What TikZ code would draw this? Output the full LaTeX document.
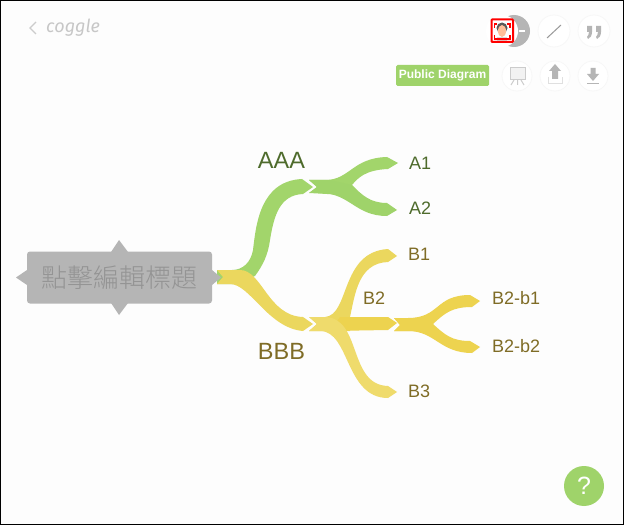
\documentclass[tikz,border=0pt]{standalone}
\usepackage{fontspec}
\setmainfont{Liberation Sans}
\newfontfamily\cjk{Noto Sans CJK TC Light}
\newfontfamily\logofont{Fira Sans}
\definecolor{gA}{HTML}{A2D56B}
\definecolor{gB}{HTML}{9FD36A}
\definecolor{yA}{HTML}{EBD75E}
\definecolor{yB}{HTML}{EDD665}
\definecolor{yC}{HTML}{EDD34F}
\definecolor{yD}{HTML}{EFDB6C}
\definecolor{tG}{HTML}{4E6B2C}
\definecolor{tY}{HTML}{7F6C26}
\definecolor{bgc}{HTML}{FDFDFD}
\definecolor{iconc}{HTML}{B5B5B5}
\tikzset{
  leafG/.style={inner sep=0pt,anchor=base west,text=tG,font=\fontsize{18}{18}\selectfont},
  leafY/.style={inner sep=0pt,anchor=base west,text=tY,font=\fontsize{18}{18}\selectfont},
  bigT/.style={inner sep=0pt,anchor=base,font=\fontsize{23.5}{24}\selectfont},
  iconcirc/.style={fill=white,draw=black!3,line width=.8pt},
}
\begin{document}
\begin{tikzpicture}[x=1pt,y=-1pt]
\useasboundingbox (0,0) rectangle (625,527);
\fill[white] (0,0) rectangle (625,527);
\fill[bgc] (1,1) rectangle (623,524);
\draw[black,line width=1.3pt] (.6,.6) rectangle (623.6,524.6);

% logo
\coordinate (backa) at (36,22); \coordinate (backb) at (30,28); \coordinate (backc) at (36,34);
\draw[black!20,line width=1.4pt] (backa) -- (backb) -- (backc);
\node[inner sep=0pt,anchor=base west,text=black!22] (logo) at (46,33) {\logofont\itshape\fontsize{18}{18}\selectfont coggle};

% top icons
\fill[iconc] (514,31) circle (16);
\fill[white] (519,30) rectangle (525,32.5);
\fill[white] (502,31) circle (16);
\fill[white] (491,19) rectangle (513,42);
\fill[black!65] (502,28) circle (5.5);
\fill[red!25!orange!40!white] (502,31) ellipse (4 and 6);
\fill[black!15] (497,37) rectangle (507,42);
\draw[red,line width=2pt,rounded corners=.8pt] (491.5,19.5) rectangle (513,42);
\draw[red,line width=1.2pt] (497,24) -- (494.5,24) -- (494.5,28) (507,24) -- (510,24) -- (510,28)
  (494.5,35) -- (494.5,39) -- (510,39) -- (510,35);
\draw[iconcirc] (554,31) circle (16);
\draw[black!40,line width=1pt] (547,38) -- (561,25);
\draw[iconcirc] (594,31) circle (16);
\fill[iconc] (587,26) rectangle (592,32) (592,32) .. controls (592,36) and (590,38) .. (588,39) -- (587,37) .. controls (588,36) and (589,34) .. (589,32) -- cycle;
\fill[iconc] (596,26) rectangle (601,32) (601,32) .. controls (601,36) and (599,38) .. (597,39) -- (596,37) .. controls (597,36) and (598,34) .. (598,32) -- cycle;
\draw[iconcirc] (517,76) circle (15);
\draw[black!20,line width=1pt,fill=black!5] (510,68) rectangle (525,80);
\draw[black!20,line width=1pt] (514,80) -- (511,85) (521,80) -- (524,85) (517.5,80) -- (517.5,85);
\draw[iconcirc] (555,76) circle (15);
\fill[iconc] (555,64) -- (561,71) -- (558,71) -- (558,79) -- (552,79) -- (552,71) -- (549,71) -- cycle;
\draw[black!12,line width=1pt] (548,77) -- (548,84) -- (562,84) -- (562,77);
\draw[iconcirc] (593,76) circle (15);
\fill[iconc] (590.5,68) -- (595.5,68) -- (595.5,74) -- (599,74) -- (593,81) -- (587,74) -- (590.5,74) -- cycle;
\fill[iconc] (587,83) rectangle (599,84.5);
\node[fill=gB,rounded corners=1.5pt,minimum width=93pt,minimum height=21pt,inner sep=0pt,text=white,font=\bfseries\fontsize{12}{12}\selectfont] (badge) at (442.5,75.5) {Public Diagram};

% branches
\coordinate (rootout) at (217,270);
\coordinate (aaain) at (309,180);
\coordinate (bbbin) at (309,317);
\coordinate (b2in) at (394,318);
% root to AAA
\fill[gA] (rootout) -- (232,270) .. controls (243,270) and (251,262) .. (253,250)
  .. controls (256,225) and (260,181) .. (302,179) -- (313,187) -- (303,194)
  .. controls (280,195) and (274,215) .. (270,240) .. controls (268,255) and (263,265) .. (255,276)
  -- (235,284) -- (217,284) -- cycle;
% root to BBB
\fill[yA] (rootout) -- (240,270) .. controls (262,270) and (268,316) .. (303,317) -- (313,324) -- (303,331)
  .. controls (268,328) and (250,284) .. (230,284) -- (217,284) -- (223,277) -- cycle;
% AAA children
\fill[gA] (aaain) -- (325,180) .. controls (350,180) and (352,158) .. (387,157) -- (398,163) -- (388,169)
  .. controls (365,170) and (358,178) .. (352,185) -- (345,195) -- (309,193) -- (317,187) -- cycle;
\fill[gB] (aaain) -- (330,180) -- (352,185) .. controls (362,195) and (370,203) .. (387,203) -- (397,210) -- (387,216)
  .. controls (355,216) and (350,193) .. (320,193) -- (309,193) -- (317,187) -- cycle;
% BBB children
\fill[yA] (bbbin) -- (325,317) .. controls (350,315) and (340,252) .. (388,249) -- (397,256) -- (388,262)
  .. controls (358,263) and (355,295) .. (350,317) -- (350,331) -- (309,331) -- (317,324) -- cycle;
\fill[yC] (340,317) -- (388,317) -- (397,323) -- (388,330) -- (330,331) -- cycle;
\fill[yD] (bbbin) -- (325,317) .. controls (362,318) and (348,385) .. (388,386) -- (397,392) -- (388,398)
  .. controls (345,398) and (350,331) .. (320,331) -- (309,331) -- (317,324) -- cycle;
% B2 children
\fill[yC] (b2in) -- (408,318) .. controls (440,318) and (435,295) .. (470,295) -- (480,301) -- (472,307)
  .. controls (452,307) and (445,313) .. (433,324) -- (420,331) -- (394,331) -- (400,325) -- cycle;
\fill[yC] (b2in) -- (413,318) -- (433,324) .. controls (445,335) and (452,341) .. (470,341) -- (480,347) -- (472,353)
  .. controls (440,353) and (435,331) .. (408,331) -- (394,331) -- (400,325) -- cycle;

% root node
\fill[iconc] (111,252) -- (119,240) -- (128,252) -- cycle;
\fill[iconc] (111,303) -- (119,315) -- (128,303) -- cycle;
\fill[iconc] (27,270) -- (16,277.5) -- (27,285) -- cycle;
\fill[iconc] (212,270) -- (221,277.5) -- (212,285) -- cycle;
\node[fill=iconc,rounded corners=3pt,minimum width=185pt,minimum height=52pt,inner sep=0pt,text=black!42] (root) at (119.5,277.5)
  {\cjk\fontsize{26}{26}\selectfont 點擊編輯標題};

% labels
\node[bigT,text=tG] (aaa) at (281.5,168) {AAA};
\node[bigT,text=tY] (bbb) at (281.5,359) {BBB};
\node[leafG] (a1) at (409,169) {A1};
\node[leafG] (a2) at (409,214.5) {A2};
\node[leafY] (b1) at (408,260.5) {B1};
\node[leafY] (b2) at (363,304.5) {B2};
\node[leafY] (b3) at (408,397) {B3};
\node[leafY] (b2b1) at (492,304.5) {B2-b1};
\node[leafY] (b2b2) at (492,352) {B2-b2};

% help
\node[circle,fill=gB,minimum size=40pt,inner sep=0pt,text=white,font=\fontsize{25}{25}\selectfont] (help) at (584,486) {?};
\end{tikzpicture}
\end{document}
